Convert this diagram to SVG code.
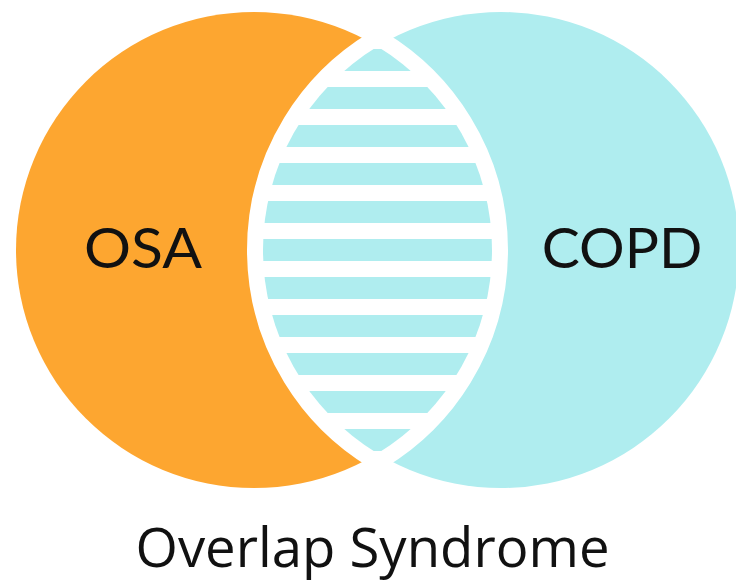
<svg xmlns="http://www.w3.org/2000/svg" width="736" height="583" viewBox="0 0 736 583">
  <style>
    .lbl { font-family: Lato, "Open Sans", "Liberation Sans", sans-serif; font-size: 57px; fill: #111; text-anchor: middle; }
    .title { font-family: "Open Sans", "Liberation Sans", sans-serif; font-size: 54px; fill: #111; text-anchor: middle; }
    .stripe { fill: #AFEDEF; }
  </style>
  <defs>
    <clipPath id="lensClip">
      <path d="M377.5,46.55 A238,238 0 0 1 377.5,453.45 A238,238 0 0 1 377.5,46.55 Z"/>
    </clipPath>
  </defs>
  <rect width="736" height="583" fill="#ffffff"/>
  <g id="osa">
    <circle cx="254" cy="250" r="238" fill="#FDA630"/>
    <text class="lbl" x="143" y="268" textLength="118" lengthAdjust="spacingAndGlyphs">OSA</text>
  </g>
  <g id="copd">
    <circle cx="501" cy="250" r="238" fill="#AFEDEF"/>
    <text class="lbl" x="622" y="268">COPD</text>
  </g>
  <g id="overlap">
    <path d="M377.5,46.55 A238,238 0 0 1 377.5,453.45 A238,238 0 0 1 377.5,46.55 Z" fill="#ffffff" stroke="#ffffff" stroke-width="32" stroke-linejoin="round"/>
    <g clip-path="url(#lensClip)">
      <rect class="stripe" x="250" y="49" width="260" height="22"/>
      <rect class="stripe" x="250" y="87" width="260" height="22"/>
      <rect class="stripe" x="250" y="125" width="260" height="22"/>
      <rect class="stripe" x="250" y="163" width="260" height="22"/>
      <rect class="stripe" x="250" y="201" width="260" height="22"/>
      <rect class="stripe" x="250" y="239" width="260" height="22"/>
      <rect class="stripe" x="250" y="277" width="260" height="22"/>
      <rect class="stripe" x="250" y="315" width="260" height="22"/>
      <rect class="stripe" x="250" y="353" width="260" height="22"/>
      <rect class="stripe" x="250" y="391" width="260" height="22"/>
      <rect class="stripe" x="250" y="429" width="260" height="22"/>
    </g>
  </g>
  <g id="connectors"/>
  <g id="caption">
    <text class="title" x="372.5" y="567" textLength="474" lengthAdjust="spacingAndGlyphs">Overlap Syndrome</text>
  </g>
</svg>
